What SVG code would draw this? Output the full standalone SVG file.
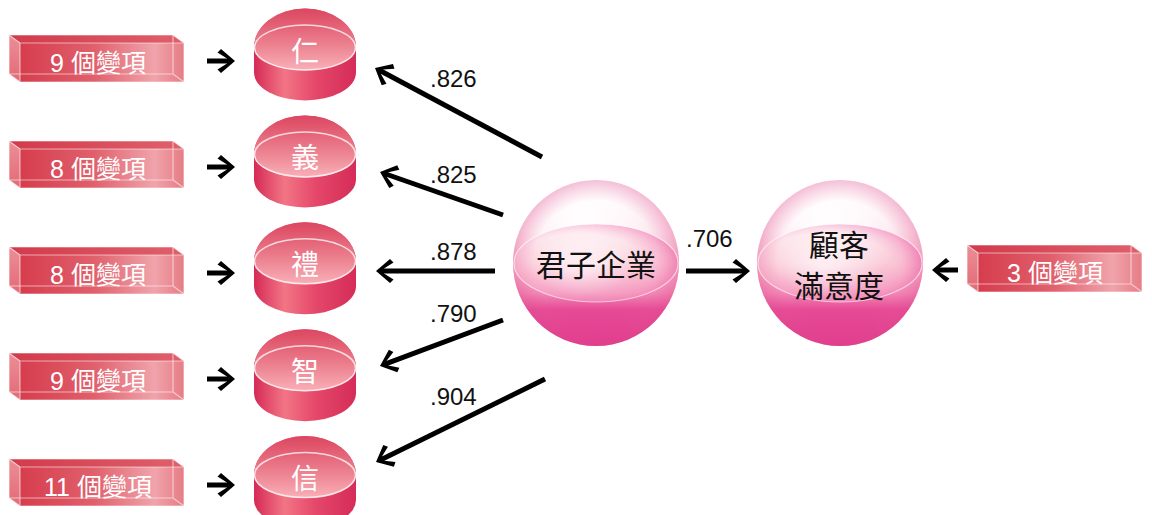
<svg xmlns="http://www.w3.org/2000/svg" xmlns:xlink="http://www.w3.org/1999/xlink" width="1152" height="515" viewBox="0 0 1152 515">
<defs>
<style>
.btxt{font-family:"Liberation Sans","Noto Sans CJK TC",sans-serif;font-size:25px;fill:#fff;text-anchor:middle}
.ctxt{font-family:"Noto Sans CJK TC",sans-serif;font-size:28px;fill:#fff;text-anchor:middle}
.stxt{font-family:"Noto Sans CJK TC",sans-serif;font-size:30px;fill:#111;text-anchor:middle}
.num{font-family:"Liberation Sans",sans-serif;font-size:24px;fill:#111}
.conn{stroke:#000;stroke-width:5;fill:none;marker-end:url(#ah)}
.edge{stroke:#fff;stroke-opacity:.55;stroke-width:1.2;fill:none}
</style>
<marker id="ah" markerUnits="userSpaceOnUse" markerWidth="40" markerHeight="40" viewBox="-20 -20 40 40" refX="0" refY="0" orient="auto">
<path d="M6,0 L-8,-12 L-11.5,-8.5 L-2,-2.5 L-2,2.5 L-11.5,8.5 L-8,12 Z" fill="#000"/>
</marker>
<linearGradient id="gFront" x1="0" y1="0" x2="1" y2="0">
<stop offset="0" stop-color="#d63d4d"/>
<stop offset="0.45" stop-color="#e0606c"/>
<stop offset="0.82" stop-color="#f0a3ab"/>
<stop offset="0.94" stop-color="#ea8890"/>
<stop offset="1" stop-color="#e57d86"/>
</linearGradient>
<linearGradient id="gTop" x1="0" y1="0" x2="1" y2="0">
<stop offset="0" stop-color="#d23a4a"/>
<stop offset="1" stop-color="#e0606c"/>
</linearGradient>
<linearGradient id="gLeft" x1="0" y1="0" x2="0" y2="1">
<stop offset="0" stop-color="#ec8e96"/>
<stop offset="1" stop-color="#e26a76"/>
</linearGradient>
<linearGradient id="gSide" x1="0" y1="0" x2="1" y2="0">
<stop offset="0" stop-color="#d52a55"/>
<stop offset="0.3" stop-color="#f27585"/>
<stop offset="0.6" stop-color="#e5486a"/>
<stop offset="1" stop-color="#d52c58"/>
</linearGradient>
<linearGradient id="gCTop" x1="0" y1="0" x2="0" y2="1">
<stop offset="0" stop-color="#dc4660"/>
<stop offset="0.55" stop-color="#eb7d8c"/>
<stop offset="1" stop-color="#f9b0b8"/>
</linearGradient>
<linearGradient id="gSph" x1="0" y1="0" x2="0" y2="1">
<stop offset="0" stop-color="#ffffff"/>
<stop offset="0.3" stop-color="#fde8ee"/>
<stop offset="0.5" stop-color="#f9c4d3"/>
<stop offset="0.68" stop-color="#f288b6"/>
<stop offset="0.78" stop-color="#e64b97"/>
<stop offset="1" stop-color="#e0398c"/>
</linearGradient>
<radialGradient id="gHi" cx="0.42" cy="0.25" r="0.45">
<stop offset="0" stop-color="#fff" stop-opacity="1"/>
<stop offset="0.6" stop-color="#fff" stop-opacity="0.5"/>
<stop offset="1" stop-color="#fff" stop-opacity="0"/>
</radialGradient>
<radialGradient id="gRim" cx="0.5" cy="0.5" r="0.5">
<stop offset="0.75" stop-color="#e85a98" stop-opacity="0"/>
<stop offset="1" stop-color="#e04a8c" stop-opacity="0.35"/>
</radialGradient>
<radialGradient id="gBand" cx="0.4" cy="0.55" r="0.6">
<stop offset="0" stop-color="#fff" stop-opacity="0.45"/>
<stop offset="0.7" stop-color="#fbd0dc" stop-opacity="0.3"/>
<stop offset="1" stop-color="#f070ae" stop-opacity="0.55"/>
</radialGradient>
<g id="box">
<polygon points="0,0 164,0 175,8 11,8" fill="url(#gTop)"/>
<polygon points="0,0 11,8 11,47 0,39" fill="url(#gLeft)"/>
<rect x="11" y="8" width="164" height="39" fill="url(#gFront)"/>
<path class="edge" d="M164,0 V39 H0 M164,39 L175,47"/>
<path class="edge" d="M0,0 H164 L175,8 M0,0 L11,8 H175 V47 H11 V8 M0,0 V39 L11,47"/>
</g>
<g id="cyl">
<path d="M-51,0 A51,39 0 0 1 51,0 L51,25 A51,28 0 0 1 -51,25 Z" fill="url(#gSide)"/>
<path d="M-51,0 A51,39 0 0 1 51,0 A51,23 0 0 1 -51,0 Z" fill="url(#gCTop)"/>
<ellipse cx="0" cy="0" rx="50.5" ry="22.5" fill="none" stroke="#fff" stroke-opacity="0.75" stroke-width="1.5"/>
</g>
<g id="sph">
<circle cx="0" cy="0" r="83" fill="url(#gSph)"/>
<circle cx="0" cy="0" r="83" fill="url(#gHi)"/>
<circle cx="0" cy="0" r="83" fill="url(#gRim)"/>
<ellipse cx="0" cy="0" rx="82" ry="39" fill="url(#gBand)" stroke="#fff" stroke-opacity="0.6" stroke-width="1.2"/>
</g>
</defs>
<rect width="1152" height="515" fill="#fff"/>

<g id="box1" transform="translate(9,35)"><use xlink:href="#box"/><text class="btxt" x="89" y="36.5">9 個變項</text></g>
<g id="box2" transform="translate(9,141)"><use xlink:href="#box"/><text class="btxt" x="89" y="36.5">8 個變項</text></g>
<g id="box3" transform="translate(9,247)"><use xlink:href="#box"/><text class="btxt" x="89" y="36.5">8 個變項</text></g>
<g id="box4" transform="translate(9,353)"><use xlink:href="#box"/><text class="btxt" x="89" y="36.5">9 個變項</text></g>
<g id="box5" transform="translate(9,459)"><use xlink:href="#box"/><text class="btxt" x="89" y="36.5">11 個變項</text></g>
<g id="box6" transform="translate(967,245)"><use xlink:href="#box"/><text class="btxt" x="88" y="36.5">3 個變項</text></g>

<g id="ren" transform="translate(305,47.5)"><use xlink:href="#cyl"/><text class="ctxt" x="0" y="14">仁</text></g>
<g id="yi" transform="translate(305,154.4)"><use xlink:href="#cyl"/><text class="ctxt" x="0" y="14">義</text></g>
<g id="li" transform="translate(305,261.3)"><use xlink:href="#cyl"/><text class="ctxt" x="0" y="14">禮</text></g>
<g id="zhi" transform="translate(305,368.2)"><use xlink:href="#cyl"/><text class="ctxt" x="0" y="14">智</text></g>
<g id="xin" transform="translate(305,475.1)"><use xlink:href="#cyl"/><text class="ctxt" x="0" y="14">信</text></g>

<g id="junzi" transform="translate(596,263)"><use xlink:href="#sph"/><text class="stxt" x="0" y="12.5">君子企業</text></g>
<g id="manyi" transform="translate(840,263)"><use xlink:href="#sph"/><text class="stxt" x="-1" y="-7.5">顧客</text><text class="stxt" x="-1" y="33.5">滿意度</text></g>

<g id="connectors">
<line class="conn" x1="207" y1="61" x2="229" y2="61"/>
<line class="conn" x1="207" y1="167" x2="229" y2="167"/>
<line class="conn" x1="207" y1="273" x2="229" y2="273"/>
<line class="conn" x1="207" y1="379" x2="229" y2="379"/>
<line class="conn" x1="207" y1="485" x2="229" y2="485"/>
<line class="conn" x1="542" y1="157" x2="380.3" y2="70.8"/>
<line class="conn" x1="503" y1="215" x2="385.7" y2="174"/>
<line class="conn" x1="495" y1="271" x2="382" y2="271"/>
<line class="conn" x1="503" y1="320" x2="385.6" y2="363.9"/>
<line class="conn" x1="545" y1="379" x2="381.4" y2="459.4"/>
<line class="conn" x1="686" y1="271" x2="744" y2="271"/>
<line class="conn" x1="958" y1="270" x2="938" y2="270"/>
<text class="num" x="430" y="87">.826</text>
<text class="num" x="430" y="183">.825</text>
<text class="num" x="430" y="260">.878</text>
<text class="num" x="430" y="322">.790</text>
<text class="num" x="430" y="405">.904</text>
<text class="num" x="686" y="247">.706</text>
</g>
</svg>
